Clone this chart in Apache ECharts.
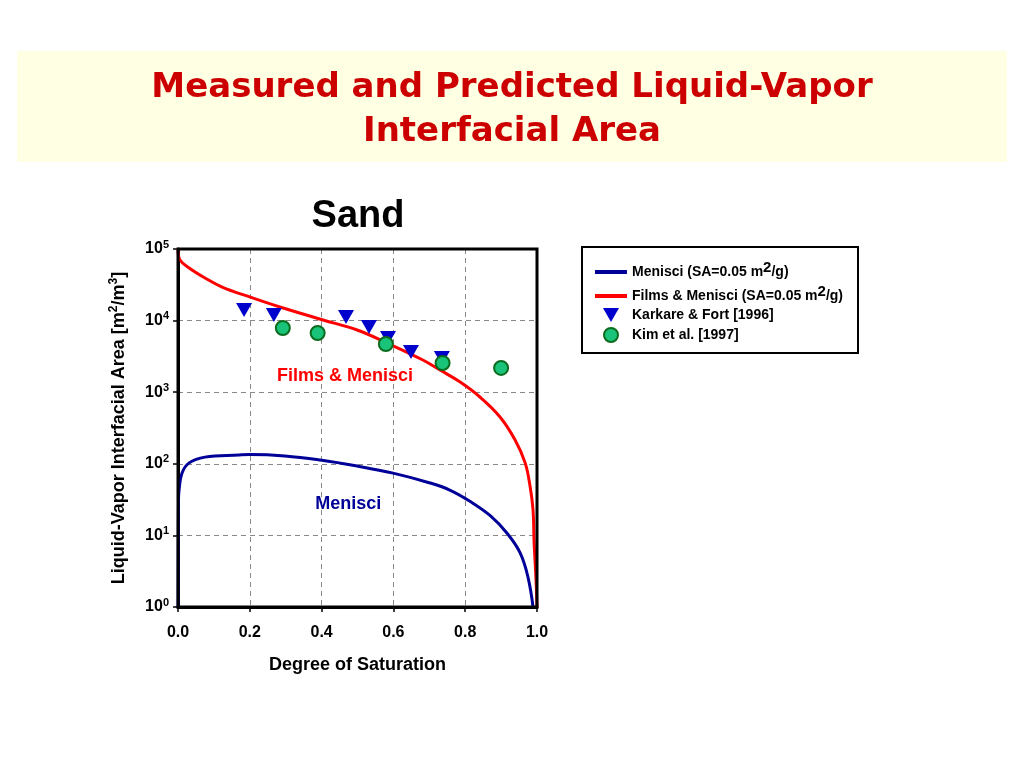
<!DOCTYPE html>
<html>
<head>
<meta charset="utf-8">
<script src="https://cdn.jsdelivr.net/npm/echarts@6/dist/echarts.min.js"></script>
<style>
html,body{margin:0;padding:0;background:#fff;}
#main{width:1024px;height:768px;}
</style>
</head>
<body>
<div id="main"></div>
<script>
// ---- Data ----
var xTicks = [0.0, 0.2, 0.4, 0.6, 0.8, 1.0];
var yTickExponents = [0, 1, 2, 3, 4, 5];

var films_x = [0, 0.0056, 0.031, 0.075, 0.123, 0.2, 0.284, 0.404, 0.499, 0.582, 0.682, 0.730, 0.786, 0.841, 0.897, 0.939, 0.967, 0.981, 0.989, 0.992, 0.997, 1.0];
var films_y = [97000, 70200, 54300, 39400, 29400, 21400, 15500, 10200, 7390, 4870, 2820, 2040, 1387, 857, 451, 215, 103, 47.4, 22.6, 7.8, 2.6, 1];

var menisci_x = [0.0003, 0.0014, 0.003, 0.011, 0.031, 0.075, 0.17, 0.2, 0.298, 0.396, 0.499, 0.599, 0.702, 0.757, 0.813, 0.869, 0.916, 0.953, 0.975, 0.989];
var menisci_y = [1, 31, 43, 74, 103, 124, 133, 135, 129, 113, 93, 74, 54, 43, 30, 19, 10.8, 5.7, 2.6, 1];

var karkare_x = [0.184, 0.267, 0.468, 0.532, 0.585, 0.649, 0.735];
var karkare_y = [14060, 11970, 11220, 8150, 5720, 3640, 3010];

var kim_x = [0.292, 0.389, 0.579, 0.737, 0.900];
var kim_y = [7890, 6710, 4710, 2560, 2180];

var annotations = [
  {text: 'Films & Menisci', x: 0.465, y: 1680},
  {text: 'Menisci', x: 0.474, y: 27.5}
];

var seriesNames = ['Menisci (SA=0.05 m2/g)', 'Films & Menisci (SA=0.05 m2/g)', 'Karkare & Fort [1996]', 'Kim et al. [1997]'];

function zip(a, b) { return a.map(function (v, i) { return [v, b[i]]; }); }

var chart = echarts.init(document.getElementById('main'));
var F = 'Liberation Sans, Arial, sans-serif';
var lineIcon = 'path://M0,5 H32 V9 H0 Z M0,0 H0.01 V14 H0 Z';

var option = {
  backgroundColor: '#ffffff',
  animation: false,
  graphic: [
    {type: 'rect', shape: {x: 17, y: 51, width: 990, height: 111}, style: {fill: '#FFFFE3'}, z: 0},
    {type: 'text', x: 512, y: 88, style: {text: 'Measured and Predicted Liquid-Vapor', fill: '#CC0000', font: 'bold 34px "DejaVu Sans", sans-serif', textAlign: 'center', textVerticalAlign: 'middle'}},
    {type: 'text', x: 512, y: 132, style: {text: 'Interfacial Area', fill: '#CC0000', font: 'bold 34px "DejaVu Sans", sans-serif', textAlign: 'center', textVerticalAlign: 'middle'}},
    {type: 'text', x: 358, y: 217, style: {text: 'Sand', fill: '#000', font: 'bold 38px ' + F, textAlign: 'center', textVerticalAlign: 'middle'}},
    {type: 'rect', shape: {x: 582, y: 247, width: 276, height: 106}, style: {fill: 'none', stroke: '#000', lineWidth: 2}},
    {type: 'rect', shape: {x: 178, y: 249, width: 359, height: 358}, style: {fill: 'none', stroke: '#000', lineWidth: 3}, z: 20}
  ],
  grid: {left: 178, top: 249, width: 359, height: 358, show: false},
  legend: {
    orient: 'vertical', left: 590, top: 255,
    itemWidth: 32, itemHeight: 14, itemGap: 5,
    data: [
      {name: seriesNames[0], icon: lineIcon},
      {name: seriesNames[1], icon: lineIcon},
      {name: seriesNames[2]},
      {name: seriesNames[3]}
    ],
    formatter: function (n) { return n.replace('m2', 'm{s|2}'); },
    textStyle: {fontFamily: F, fontWeight: 'bold', fontSize: 14, color: '#000',
      rich: {s: {fontFamily: F, fontWeight: 'bold', fontSize: 15, padding: [0, 0, 9, 0], color: '#000'}}}
  },
  xAxis: {
    type: 'value', min: 0, max: 1, interval: 0.2,
    name: 'Degree of Saturation', nameLocation: 'middle', nameGap: 49,
    nameTextStyle: {fontFamily: F, fontWeight: 'bold', fontSize: 18, color: '#000'},
    axisLine: {show: true, lineStyle: {color: '#000', width: 3}},
    axisTick: {show: true, length: 5, lineStyle: {color: '#000', width: 1.5}},
    axisLabel: {margin: 18, fontFamily: F, fontWeight: 'bold', fontSize: 16, color: '#000',
      formatter: function (v) { return v.toFixed(1); }},
    splitLine: {show: true, lineStyle: {color: '#888', type: [5, 4], width: 1}}
  },
  yAxis: {
    type: 'log', logBase: 10, min: 1, max: 100000,
    name: 'Liquid-Vapor Interfacial Area [m{s|2}/m{s|3}]', nameLocation: 'middle', nameGap: 48, nameRotate: 90,
    nameTextStyle: {fontFamily: F, fontWeight: 'bold', fontSize: 18, color: '#000',
      rich: {s: {fontFamily: F, fontWeight: 'bold', fontSize: 12, padding: [0, 0, 10, 0], color: '#000'}}},
    axisLine: {show: true, lineStyle: {color: '#000', width: 3}},
    axisTick: {show: true, length: 5, lineStyle: {color: '#000', width: 1.5}},
    minorTick: {show: false},
    axisLabel: {margin: 9, color: '#000',
      formatter: function (v) { var e = Math.round(Math.log10(v)); return '{b|10}{s|' + e + '}'; },
      rich: {b: {fontFamily: F, fontWeight: 'bold', fontSize: 16, color: '#000'},
             s: {fontFamily: F, fontWeight: 'bold', fontSize: 11, padding: [0, 0, 9, 0], color: '#000'}}},
    splitLine: {show: true, lineStyle: {color: '#888', type: [5, 4], width: 1}}
  },
  series: [
    {name: seriesNames[0], type: 'line', data: zip(menisci_x, menisci_y), smooth: 0.4, showSymbol: false, symbol: 'none',
     lineStyle: {color: '#000099', width: 3}, itemStyle: {color: '#000099'}, z: 3},
    {name: seriesNames[1], type: 'line', data: zip(films_x, films_y), smooth: 0.4, showSymbol: false, symbol: 'none',
     lineStyle: {color: '#FF0000', width: 3}, itemStyle: {color: '#FF0000'}, z: 3},
    {name: seriesNames[2], type: 'scatter', data: zip(karkare_x, karkare_y), symbol: 'path://M0,0 L16,0 L8,14 Z', symbolSize: [16, 14],
     itemStyle: {color: '#0000CC', opacity: 1}, z: 4},
    {name: seriesNames[3], type: 'scatter', data: zip(kim_x, kim_y), symbol: 'circle', symbolSize: 14,
     itemStyle: {color: '#19C47A', borderColor: '#0B6B1E', borderWidth: 2, opacity: 1}, z: 5},
    {name: 'labels', type: 'scatter', symbolSize: 0, silent: true, itemStyle: {color: 'rgba(0,0,0,0)'},
     data: annotations.map(function (a, i) { return {value: [a.x, a.y], label: {show: true, formatter: a.text, position: 'inside', opacity: 1,
       fontFamily: F, fontWeight: 'bold', fontSize: 18, color: i === 0 ? '#FF0000' : '#000099'}}; }), z: 6}
  ]
};
chart.setOption(option);
</script>
</body>
</html>
